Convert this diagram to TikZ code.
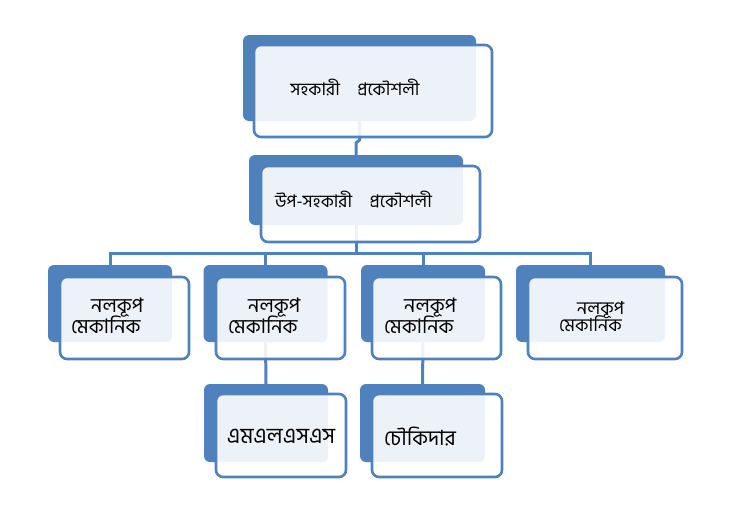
\documentclass[tikz,border=0pt]{standalone}
\usepackage{fontspec}
\newfontfamily\bn[Script=Bengali]{Hind Siliguri}
\definecolor{smblue}{RGB}{79,129,189}
\begin{document}
\begin{tikzpicture}[x=1pt, y=-1pt,
      backbox/.style = {shape=rectangle, fill=smblue, rounded corners=6pt, inner sep=0pt, outer sep=0pt},
      frontbox/.style = {shape=rectangle, draw=smblue, line width=2.6pt, fill=white, fill opacity=0.9, rounded corners=7pt, inner sep=0pt},
      link/.style = {draw=smblue, line width=3pt},
      txt/.style = {font=\bn, inner sep=0pt, align=left}]
  \useasboundingbox (0,0) rectangle (731,514);
  % back boxes
  \node[backbox, minimum width=233pt, minimum height=86pt] (b1) at (359.5,78) {};
  \node[backbox, minimum width=214pt, minimum height=70pt] (b2) at (356,190) {};
  \node[backbox, minimum width=124pt, minimum height=77pt] (c1) at (110,303.5) {};
  \node[backbox, minimum width=124pt, minimum height=77pt] (c2) at (265.5,303.5) {};
  \node[backbox, minimum width=124pt, minimum height=77pt] (c3) at (423,303.5) {};
  \node[backbox, minimum width=149pt, minimum height=77pt] (c4) at (590.5,303.5) {};
  \node[backbox, minimum width=124pt, minimum height=78pt] (d1) at (266,423) {};
  \node[backbox, minimum width=125pt, minimum height=78pt] (d2) at (422.5,423) {};
  % connectors
  \draw[link] (b1.south) -- (b1.south |- 0,140) -- (b2.north |- 0,143) -- (b2.north);
  \draw[link] (b2.south) -- (b2.south |- 0,253);
  \draw[link] (c1.north) -- ++(0,-12) -| (c4.north);
  \draw[link] (c2.north) -- ++(0,-12);
  \draw[link] (c3.north) -- ++(0,-12);
  \draw[link] (c2.south) -- (d1.north);
  \draw[link] (c3.south) -- (d2.north);
  % front boxes
  \node[frontbox, minimum width=238pt, minimum height=92pt] (f1) at (373,91) {};
  \node[frontbox, minimum width=219pt, minimum height=76pt] (f2) at (370.5,204) {};
  \node[frontbox, minimum width=129pt, minimum height=82pt] (g1) at (124.5,318) {};
  \node[frontbox, minimum width=129pt, minimum height=82pt] (g2) at (280.5,318) {};
  \node[frontbox, minimum width=129pt, minimum height=82pt] (g3) at (436.5,318) {};
  \node[frontbox, minimum width=154pt, minimum height=82pt] (g4) at (605,318) {};
  \node[frontbox, minimum width=130pt, minimum height=83pt] (h1) at (281,435.5) {};
  \node[frontbox, minimum width=130pt, minimum height=83pt] (h2) at (437,435.5) {};
  % texts
  \node[txt, font=\bn\fontsize{17.5}{20}\selectfont] (t1) at (355,88) {সহকারী\quad প্রকৌশলী};
  \node[txt, font=\bn\fontsize{17.5}{20}\selectfont] (t2) at (353.5,200) {উপ-সহকারী\quad প্রকৌশলী};
  \node[txt, font=\bn\fontsize{20}{15}\selectfont, anchor=north west] (u1) at (71,298) {\hspace*{20pt}নলকূপ\\[-3pt]মেকানিক};
  \node[txt, font=\bn\fontsize{20}{15}\selectfont, anchor=north west] (u2) at (228,298) {\hspace*{20pt}নলকূপ\\[-3pt]মেকানিক};
  \node[txt, font=\bn\fontsize{20}{15}\selectfont, anchor=north west] (u3) at (384,298) {\hspace*{20pt}নলকূপ\\[-3pt]মেকানিক};
  \node[txt, font=\bn\fontsize{18}{13}\selectfont, anchor=north west] (u4) at (559,301) {\hspace*{18pt}নলকূপ\\[-4pt]মেকানিক};
  \node[txt, font=\bn\fontsize{22}{24}\selectfont] (v1) at (281,436) {এমএলএসএস};
  \node[txt, font=\bn\fontsize{21}{24}\selectfont] (v2) at (420,436) {চৌকিদার};
\end{tikzpicture}
\end{document}
